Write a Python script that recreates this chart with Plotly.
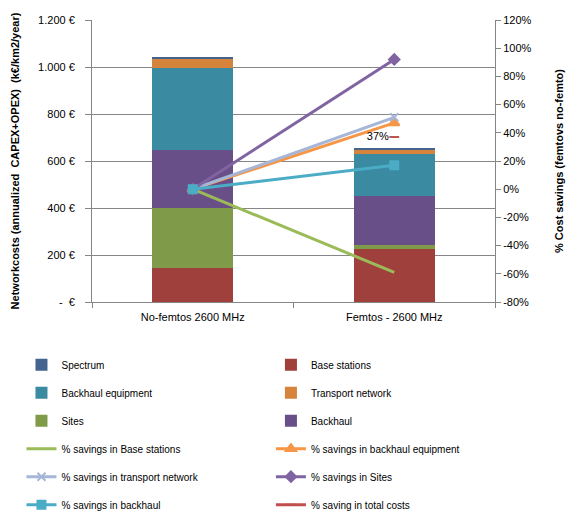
import plotly.graph_objects as go

categories = ["No-femtos 2600 MHz", "Femtos - 2600 MHz"]

# Stacked cost components (k€/km2/year)
base_stations = [145, 227]
sites = [255, 17]
backhaul = [247, 208]
backhaul_equipment = [350, 178]
transport_network = [38, 21]
spectrum = [4, 4]

# % savings (fraction)
sav_base_stations = [0.0, -0.59]
sav_backhaul_equipment = [0.0, 0.47]
sav_transport_network = [0.0, 0.51]
sav_sites = [0.0, 0.92]
sav_backhaul = [0.0, 0.17]
sav_total = [None, 0.37]

left_ticks = [0, 200, 400, 600, 800, 1000, 1200]
left_ticktext = ["-  €", "200 €", "400 €", "600 €", "800 €", "1.000 €", "1.200 €"]
right_ticks = [-0.8, -0.6, -0.4, -0.2, 0, 0.2, 0.4, 0.6, 0.8, 1.0, 1.2]
right_ticktext = ["-80%", "-60%", "-40%", "-20%", "0%", "20%", "40%", "60%", "80%", "100%", "120%"]

FONT = "Liberation Sans"
fig = go.Figure()

bars = [
    ("Base stations", base_stations, "#A0403D", "legend2", 1),
    ("Sites", sites, "#7F9A48", "legend", 3),
    ("Backhaul", backhaul, "#694F88", "legend2", 3),
    ("Backhaul equipment", backhaul_equipment, "#3A8AA2", "legend", 2),
    ("Transport network", transport_network, "#D6843C", "legend2", 2),
    ("Spectrum", spectrum, "#44638F", "legend", 1),
]
for name, vals, col, lg, rank in bars:
    fig.add_trace(go.Bar(x=categories, y=vals, name=name, marker=dict(color=col, line=dict(width=0)),
                         legend=lg, legendrank=rank, legendgroup=name, yaxis="y"))

lines = [
    ("% savings in Base stations", sav_base_stations, "#9BBB59", "circle", 0, "legend", 4),
    ("% savings in backhaul equipment", sav_backhaul_equipment, "#F79646", "triangle-up", 9, "legend2", 4),
    ("% savings in transport network", sav_transport_network, "#A5B6D6", "x-thin-open", 8, "legend", 5),
    ("% savings in Sites", sav_sites, "#8064A2", "diamond", 8, "legend2", 5),
    ("% savings in backhaul", sav_backhaul, "#4BACC6", "square", 8, "legend", 6),
]
for name, vals, col, sym, sz, lg, rank in lines:
    fig.add_trace(go.Scatter(x=categories, y=vals, name=name, mode="lines+markers" if sz else "lines",
                             line=dict(color=col, width=3),
                             marker=dict(symbol=sym, size=sz, color=col, line=dict(color=col, width=2)),
                             yaxis="y2", legend=lg, legendrank=rank, legendgroup=name))

fig.add_trace(go.Scatter(x=categories, y=sav_total, name="% saving in total costs", mode="lines+markers+text",
                         line=dict(color="#C0504D", width=3),
                         marker=dict(symbol="line-ew", size=7, color="#C0504D", line=dict(color="#C0504D", width=2)),
                         text=[None if v is None else f"{round(v*100)}%" for v in sav_total],
                         textposition="middle left", textfont=dict(family=FONT, size=11, color="#000000"),
                         yaxis="y2", legend="legend2", legendrank=6, legendgroup="total"))

fig.update_layout(
    width=566, height=509,
    margin=dict(l=84, r=79, t=12, b=215, autoexpand=False),
    paper_bgcolor="white", plot_bgcolor="white",
    barmode="stack", bargap=0.6,
    font=dict(family=FONT, size=10, color="#000000"),
    xaxis=dict(type="category", showline=True, linecolor="#868686", linewidth=1, automargin=False,
               ticks="outside", tickson="boundaries", ticklen=5, tickcolor="#868686",
               showgrid=False, tickfont=dict(size=11), ticklabelstandoff=5),
    yaxis=dict(range=[0, 1200], tickvals=left_ticks, ticktext=left_ticktext, automargin=False,
               showline=True, linecolor="#868686", ticks="outside", ticklen=6, tickcolor="#868686",
               showgrid=True, gridcolor="#868686", gridwidth=1, zeroline=False,
               tickfont=dict(size=11), ticklabelstandoff=8,
               title=dict(text="<b>Networkcosts (annualized  CAPEX+OPEX)  (k€/km2/year)</b>",
                          font=dict(size=11), standoff=16)),
    yaxis2=dict(range=[-0.8, 1.2], tickvals=right_ticks, ticktext=right_ticktext, overlaying="y", side="right",
                automargin=False,
                showline=True, linecolor="#868686", ticks="outside", ticklen=5, tickcolor="#868686",
                showgrid=False, zeroline=False, tickfont=dict(size=11),
                title=dict(text="<b>% Cost savings (femtovs no-femto)</b>", font=dict(size=11), standoff=24)),
    legend=dict(x=-0.175, y=-0.171, xanchor="left", yanchor="top", orientation="v",
                tracegroupgap=9, font=dict(size=10), itemwidth=30, bgcolor="rgba(0,0,0,0)"),
    legend2=dict(x=0.444, y=-0.171, xanchor="left", yanchor="top", orientation="v",
                 tracegroupgap=9, font=dict(size=10), itemwidth=30, bgcolor="rgba(0,0,0,0)"),
)

fig.write_html("out.html")
